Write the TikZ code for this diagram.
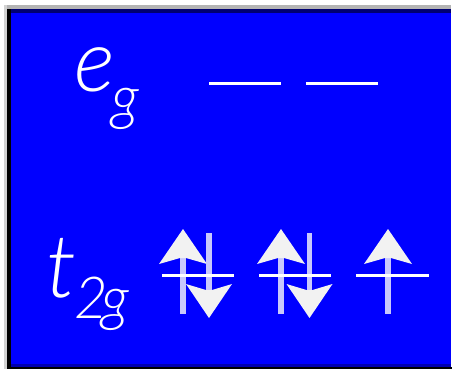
\documentclass[tikz,border=0pt]{standalone}
\usepackage{fontspec}
\IfFontExistsTF{Lato Light Italic}{\newfontfamily\labfont{Lato Light Italic}}{%
 \IfFontExistsTF{Fira Sans Light Italic}{\newfontfamily\labfont{Fira Sans Light Italic}}{%
  \IfFontExistsTF{Open Sans Light Italic}{\newfontfamily\labfont{Open Sans Light Italic}}{%
   \newcommand\labfont{\sffamily\itshape}}}}
\definecolor{bgblue}{RGB}{0,0,255}
\definecolor{navy}{RGB}{0,0,112}
\definecolor{dkblue}{RGB}{0,0,176}
\definecolor{topgray}{RGB}{180,180,180}
\definecolor{lgray}{RGB}{210,210,210}
\definecolor{shaft}{RGB}{200,200,252}
\definecolor{headc}{RGB}{242,242,242}
\tikzset{
  lvl/.style={draw=white, line width=3pt},
  shaftline/.style={draw=shaft, line width=5.5pt},
  headfill/.style={fill=headc},
  lab/.style={text=white, inner sep=0pt, anchor=base west},
}
\newcommand\upspin[1]{%
  \draw[shaftline] (#1,233) -- (#1,314);
  \fill[headfill] (#1,229) -- (#1+24,264) -- (#1+3,258) -- (#1-3,258) -- (#1-24,264) -- cycle;}
\newcommand\downspin[1]{%
  \draw[shaftline] (#1,233) -- (#1,314);
  \fill[headfill] (#1,318) -- (#1+23,284) -- (#1+3,290) -- (#1-3,290) -- (#1-23,284) -- cycle;}
\begin{document}
\begin{tikzpicture}[x=1pt,y=-1pt]
\useasboundingbox (0,0) rectangle (452,369);
\fill[white] (0,0) rectangle (452,369);
\fill[topgray] (4,5) rectangle (451,9);
\fill[lgray] (4,5) rectangle (7,369);
\fill[black] (7,9) rectangle (11,369);
\fill[navy] (11,9) rectangle (451,13);
\fill[bgblue] (11,13) rectangle (451,364);
\fill[dkblue] (11,364) rectangle (451,367);
\fill[black] (7,367) rectangle (452,369);
% labels
\node[lab, font=\labfont\fontsize{87}{87}\selectfont] (e) at (74,92) {e};
\node[lab, font=\labfont\fontsize{60}{60}\selectfont] (eg) at (111,118) {g};
\node[lab, font=\labfont\fontsize{88}{88}\selectfont] (t) at (46,297) {t};
\node[lab, font=\labfont\fontsize{58}{58}\selectfont] (t2) at (74,318) {2};
\node[lab, font=\labfont\fontsize{60}{60}\selectfont] (tg) at (101,319) {g};
% e_g levels
\draw[lvl] (209,83) -- (281,83);
\draw[lvl] (306,83) -- (378,83);
% t_2g electrons
\upspin{183}
\downspin{209}
\upspin{281}
\downspin{309.5}
\upspin{388}
\draw[lvl] (162,275.5) -- (234,275.5);
\draw[lvl] (259,275.5) -- (331,275.5);
\draw[lvl] (356,275.5) -- (429,275.5);
\end{tikzpicture}
\end{document}
